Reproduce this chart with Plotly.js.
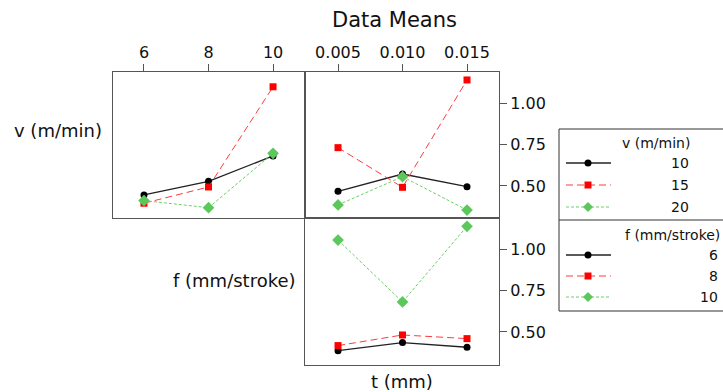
<!DOCTYPE html>
<html><head><meta charset="utf-8">
<script src="https://cdn.plot.ly/plotly-3.0.1.min.js"></script>
<style>html,body{margin:0;padding:0;background:#fff}#chart{width:723px;height:392px}</style>
</head><body><div id="chart"></div>
<script>
// ---- data ----
const fLevels = [6, 8, 10];
const tLevels = [0.005, 0.010, 0.015];
const tTickText = ['0.005', '0.010', '0.015'];
const yTickVals = [0.50, 0.75, 1.00];
const yTickText = ['0.50', '0.75', '1.00'];
const vLevels = ['10', '15', '20'];
const fLegendLevels = ['6', '8', '10'];
// means vs f, one series per v
const vf_v10 = [0.446, 0.528, 0.681];
const vf_v15 = [0.396, 0.494, 1.098];
const vf_v20 = [0.412, 0.369, 0.697];
// means vs t, one series per v
const vt_v10 = [0.468, 0.572, 0.496];
const vt_v15 = [0.731, 0.492, 1.139];
const vt_v20 = [0.386, 0.556, 0.355];
// means vs t, one series per f
const ft_f6 = [0.387, 0.436, 0.408];
const ft_f8 = [0.418, 0.482, 0.460];
const ft_f10 = [1.054, 0.681, 1.137];

// ---- styles ----
const W = 723, H = 392;
const X = p => p / W, Y = p => 1 - p / H;
const styles = [
  {mc: '#000000', lc: '#222222', dash: 'solid', symbol: 'circle', size: 7, lw: 1.3},
  {mc: '#ff0000', lc: '#ff3b3b', dash: '7px,4px', symbol: 'square', size: 7, lw: 1},
  {mc: '#5cc85c', lc: '#6ccf6c', dash: '3px,2px', symbol: 'diamond', size: 9, lw: 1}
];
function tr(x, y, s, xa, ya) {
  return {x: x, y: y, xaxis: xa, yaxis: ya, type: 'scatter', mode: 'lines+markers',
    showlegend: false, cliponaxis: false,
    line: {color: s.lc, dash: s.dash, width: s.lw},
    marker: {color: s.mc, symbol: s.symbol, size: s.size, line: {width: 0}}};
}
const traces = [];
[vf_v10, vf_v15, vf_v20].forEach((d, i) => traces.push(tr(fLevels, d, styles[i], 'x', 'y')));
[vt_v10, vt_v15, vt_v20].forEach((d, i) => traces.push(tr(tLevels, d, styles[i], 'x2', 'y2')));
[ft_f6, ft_f8, ft_f10].forEach((d, i) => traces.push(tr(tLevels, d, styles[i], 'x3', 'y3')));

const FONT = 'DejaVu Sans, Verdana, sans-serif';
const frame = {showline: true, mirror: true, linecolor: '#555', linewidth: 1, showgrid: false, zeroline: false};
const topDom = [Y(218), Y(72)], botDom = [Y(365), Y(218)];
const leftDom = [X(113), X(305)], rightDom = [X(305), X(499)];
const yRangeTop = [0.307, 1.187], yRangeBot = [0.301, 1.187];
const tRange = [0.00244, 0.01748];
const tickStyle = {ticks: 'outside', ticklen: 7, tickcolor: '#555', tickwidth: 1, tickfont: {size: 16, color: '#111', family: FONT}};

const layout = {
  width: W, height: H, margin: {l: 0, r: 0, t: 0, b: 0},
  paper_bgcolor: '#fff', plot_bgcolor: '#fff',
  font: {family: FONT, color: '#111'},
  xaxis: Object.assign({}, frame, tickStyle, {domain: leftDom, range: [5.04, 10.99], side: 'top', anchor: 'y', tickvals: fLevels, ticktext: fLevels.map(String)}),
  yaxis: Object.assign({}, frame, {domain: topDom, range: yRangeTop, anchor: 'x', showticklabels: false, ticks: ''}),
  xaxis2: Object.assign({}, frame, tickStyle, {domain: rightDom, range: tRange, side: 'top', anchor: 'y2', tickvals: tLevels, ticktext: tTickText}),
  yaxis2: Object.assign({}, frame, tickStyle, {domain: topDom, range: yRangeTop, side: 'right', anchor: 'x2', tickvals: yTickVals, ticktext: yTickText}),
  xaxis3: Object.assign({}, frame, {domain: rightDom, range: tRange, anchor: 'y3', showticklabels: false, ticks: ''}),
  yaxis3: Object.assign({}, frame, tickStyle, {domain: botDom, range: yRangeBot, side: 'right', anchor: 'x3', tickvals: yTickVals, ticktext: yTickText}),
  shapes: [], annotations: []
};

function ann(text, x, y, size, xanchor) {
  layout.annotations.push({text: text, xref: 'paper', yref: 'paper', x: X(x), y: Y(y),
    xanchor: xanchor || 'center', yanchor: 'middle', showarrow: false,
    font: {size: size, family: FONT, color: '#111'}});
}
ann('Data Means', 395, 20, 21);
ann('v (m/min)', 104, 131, 18, 'right');
ann('f (mm/stroke)', 298, 280, 18, 'right');
ann('t (mm)', 402, 381, 18);

// ---- legend (drawn) ----
const S = layout.shapes;
S.push({type: 'rect', xref: 'paper', yref: 'paper', x0: X(559), x1: X(745), y0: Y(129), y1: Y(311), line: {color: '#333', width: 1}, fillcolor: 'rgba(0,0,0,0)'});
S.push({type: 'line', xref: 'paper', yref: 'paper', x0: X(559), x1: X(745), y0: Y(220), y1: Y(220), line: {color: '#333', width: 1}});
function legendItem(s, yc) {
  S.push({type: 'line', xref: 'paper', yref: 'paper', x0: X(566), x1: X(611), y0: Y(yc), y1: Y(yc), line: {color: s.lc, width: s.lw, dash: s.dash}});
  const cx = 588, r = s.size / 2;
  if (s.symbol === 'circle') {
    S.push({type: 'circle', xref: 'paper', yref: 'paper', x0: X(cx - r), x1: X(cx + r), y0: Y(yc - r), y1: Y(yc + r), fillcolor: s.mc, line: {width: 0}});
  } else if (s.symbol === 'square') {
    S.push({type: 'rect', xref: 'paper', yref: 'paper', x0: X(cx - r), x1: X(cx + r), y0: Y(yc - r), y1: Y(yc + r), fillcolor: s.mc, line: {width: 0}});
  } else {
    const p = (a, b) => X(a) + ',' + Y(b);
    S.push({type: 'path', xref: 'paper', yref: 'paper', path: 'M' + p(cx, yc - r - 0.5) + 'L' + p(cx + r + 0.5, yc) + 'L' + p(cx, yc + r + 0.5) + 'L' + p(cx - r - 0.5, yc) + 'Z', fillcolor: s.mc, line: {width: 0}});
  }
}
ann('v (m/min)', 656, 143, 14);
const vY = [163, 185, 207];
vLevels.forEach((lab, i) => { legendItem(styles[i], vY[i]); ann(lab, 691, vY[i], 14, 'right'); });
ann('f (mm/stroke)', 623, 235, 14, 'left');
const fY = [255, 276, 297];
fLegendLevels.forEach((lab, i) => { legendItem(styles[i], fY[i]); ann(lab, 720, fY[i], 14, 'right'); });

Plotly.newPlot('chart', traces, layout, {staticPlot: true, displayModeBar: false});
</script></body></html>
